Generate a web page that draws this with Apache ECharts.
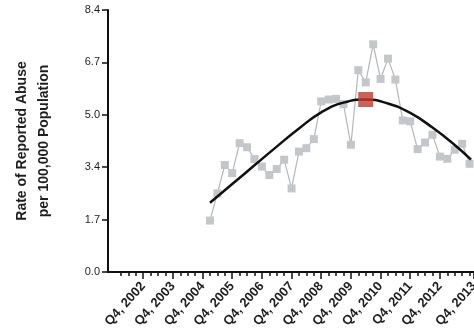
<!DOCTYPE html>
<html>
<head>
<meta charset="utf-8">
<script src="https://cdn.jsdelivr.net/npm/echarts@6/dist/echarts.min.js"></script>
<style>
  html, body { margin: 0; padding: 0; background: #fff; }
  #chart { width: 474px; height: 333px; }
</style>
</head>
<body>
<div id="chart"></div>
<script>
// Quarters are counted from Q4 2002 (= 0); one unit per quarter.
const tickLabels = ['Q4, 2002', 'Q4, 2003', 'Q4, 2004', 'Q4, 2005', 'Q4, 2006', 'Q4, 2007',
                    'Q4, 2008', 'Q4, 2009', 'Q4, 2010', 'Q4, 2011', 'Q4, 2012', 'Q4, 2013'];

// Quarterly rate of reported abuse per 100,000 population
const rateQuarters = [9, 10, 11, 12, 13, 14, 15, 16, 17, 18, 19, 20, 21, 22, 23, 24, 25, 26,
                      27, 28, 29, 30, 31, 32, 33, 34, 35, 36, 37, 38, 39, 40, 41, 42, 43, 44];
const rates = [1.65, 2.52, 3.43, 3.17, 4.13, 4.00, 3.62, 3.38, 3.11, 3.30, 3.60, 2.68,
               3.86, 3.97, 4.26, 5.47, 5.53, 5.55, 5.38, 4.08, 6.47, 6.08, 7.30, 6.19,
               6.84, 6.17, 4.86, 4.83, 3.94, 4.15, 4.40, 3.70, 3.63, 3.92, 4.11, 3.47];

// Fitted trend curve
const fitQuarters = [9, 12, 15, 18, 21, 24, 27, 30, 33, 36, 39, 42, 44.2];
const fitValues = [2.22, 2.82, 3.42, 4.02, 4.60, 5.12, 5.43, 5.53, 5.40, 5.10, 4.63, 4.07, 3.60];

// Peak of the fitted curve
const peakQuarter = [30];
const peakValue = [5.53];

const W = 474;
const gridLeft = 108, gridTop = 10, gridBottom = 61;
const xMin = -4.75, xMax = 44.6;
const q = (W - gridLeft) / (xMax - xMin);  // pixels per quarter

const pair = (xs, ys) => xs.map((x, i) => [x, ys[i]]);
const axisFont = { fontFamily: 'Liberation Sans', color: '#1e1e1e' };
const gridBase = { right: 0, top: gridTop, bottom: gridBottom, containLabel: false, outerBoundsMode: 'none' };

const chart = echarts.init(document.getElementById('chart'), null, { renderer: 'canvas' });
chart.setOption({
  animation: false,
  grid: [
    { ...gridBase, left: gridLeft },
    { ...gridBase, left: gridLeft + (-3 - xMin) * q },
    { ...gridBase, left: gridLeft + (0 - xMin) * q }
  ],
  xAxis: [
    { type: 'value', gridIndex: 0, min: xMin, max: xMax,
      axisLine: { show: true, onZero: false, lineStyle: { color: '#111', width: 2 } },
      axisTick: { show: false }, axisLabel: { show: false }, splitLine: { show: false } },
    // quarterly minor ticks
    { type: 'value', gridIndex: 1, min: -3, max: xMax, interval: 1,
      axisLine: { show: false, onZero: false },
      axisTick: { show: true, length: 4, lineStyle: { color: '#111', width: 1.5 } },
      axisLabel: { show: false }, splitLine: { show: false } },
    // yearly Q4 ticks with labels
    { type: 'value', gridIndex: 2, min: 0, max: xMax, interval: 4,
      axisLine: { show: false, onZero: false },
      axisTick: { show: true, length: 7, lineStyle: { color: '#111', width: 1.5 } },
      axisLabel: { show: true, rotate: 48, margin: 12, fontSize: 13, fontWeight: 'bold',
                   ...axisFont, showMaxLabel: true,
                   formatter: v => tickLabels[Math.round(v / 4)] || '' },
      splitLine: { show: false } }
  ],
  yAxis: [
    { type: 'value', gridIndex: 0, min: 0, max: 8.4, interval: 1.68,
      name: 'Rate of Reported Abuse\nper 100,000 Population',
      nameLocation: 'middle', nameGap: 53, nameRotate: 90,
      nameTextStyle: { fontFamily: 'Liberation Sans', fontWeight: 'bold', fontSize: 14,
                       color: '#1e1e1e', lineHeight: 22 },
      axisLine: { show: true, onZero: false, lineStyle: { color: '#111', width: 2 } },
      axisTick: { show: true, length: 6, lineStyle: { color: '#111', width: 1.5 } },
      axisLabel: { margin: 8, fontSize: 11, ...axisFont, formatter: v => v.toFixed(1) },
      splitLine: { show: false } },
    { type: 'value', gridIndex: 1, min: 0, max: 8.4, show: false },
    { type: 'value', gridIndex: 2, min: 0, max: 8.4, show: false }
  ],
  series: [
    { type: 'line', xAxisIndex: 0, yAxisIndex: 0, data: pair(rateQuarters, rates),
      symbol: 'rect', symbolSize: 8, z: 2,
      itemStyle: { color: '#c4c7ca' },
      lineStyle: { color: '#b4b6b9', width: 1.2 } },
    { type: 'line', xAxisIndex: 0, yAxisIndex: 0, data: pair(fitQuarters, fitValues),
      smooth: 0.5, showSymbol: false, z: 3,
      lineStyle: { color: '#111', width: 2.5 } },
    { type: 'scatter', xAxisIndex: 0, yAxisIndex: 0, data: pair(peakQuarter, peakValue),
      symbol: 'rect', symbolSize: 15, z: 4,
      itemStyle: { color: '#c0392b' } }
  ]
});
</script>
</body>
</html>
